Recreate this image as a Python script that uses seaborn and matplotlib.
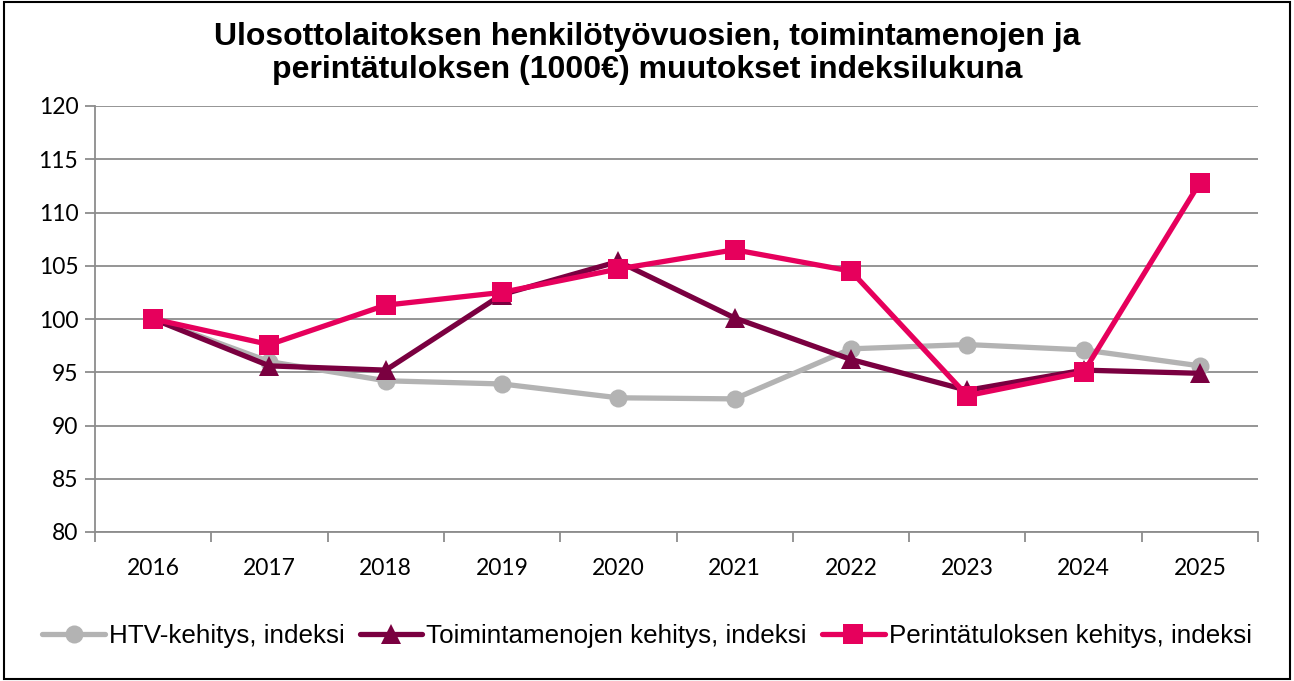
import matplotlib
matplotlib.use("Agg")
import matplotlib.pyplot as plt
import seaborn as sns
import pandas as pd
import numpy as np
from matplotlib.patches import Rectangle

years = ["2016", "2017", "2018", "2019", "2020", "2021", "2022", "2023", "2024", "2025"]
htv = [100.0, 96.0, 94.2, 93.9, 92.6, 92.5, 97.2, 97.6, 97.1, 95.6]
toimintamenot = [100.0, 95.6, 95.2, 102.3, 105.4, 100.1, 96.2, 93.3, 95.2, 94.9]
perinta = [100.0, 97.6, 101.3, 102.5, 104.7, 106.5, 104.5, 92.8, 95.0, 112.8]

series_names = ["HTV-kehitys, indeksi", "Toimintamenojen kehitys, indeksi",
                "Perintätuloksen kehitys, indeksi"]
colors = ["#B3B3B3", "#7A0040", "#E6005C"]
markers = ["o", "^", "s"]

df = pd.DataFrame({"vuosi": years, series_names[0]: htv,
                   series_names[1]: toimintamenot, series_names[2]: perinta})
long = df.melt(id_vars="vuosi", var_name="sarja", value_name="indeksi")

sns.set_theme(style="white")
plt.rcParams["font.family"] = ["Liberation Sans", "DejaVu Sans"]
plt.rcParams["text.color"] = "black"
plt.rcParams["xtick.color"] = "black"
plt.rcParams["ytick.color"] = "black"

fig = plt.figure(figsize=(12.94, 6.81), dpi=100)
ax = fig.add_axes([95 / 1294, 1 - 532 / 681, (1258 - 95) / 1294, (532 - 106) / 681])

for name, c, m in zip(series_names, colors, markers):
    sub = long[long["sarja"] == name]
    xs = [years.index(v) for v in sub["vuosi"]]
    sns.lineplot(x=xs, y=sub["indeksi"].values, ax=ax, color=c, marker=m,
                 markersize=14 if m != "o" else 13, markeredgewidth=0,
                 linewidth=3.8, label=name, legend=False)

ax.set_xlim(-0.5, len(years) - 0.5)
ax.set_ylim(80, 120)
ax.set_yticks(np.arange(80, 121, 5))
ax.set_xticks(range(len(years)))
ax.set_xticklabels(years)
ax.set_xticks(np.arange(-0.5, len(years), 1), minor=True)
ax.grid(axis="y", color="#8C8C8C", linewidth=1.3)
ax.set_axisbelow(True)
for s in ["top", "right"]:
    ax.spines[s].set_visible(False)
for s in ["left", "bottom"]:
    ax.spines[s].set_color("#8C8C8C")
    ax.spines[s].set_linewidth(1.3)
ax.tick_params(axis="y", which="major", left=True, length=7, width=1.3,
               color="#8C8C8C", labelcolor="black", labelsize=16.5, pad=5)
ax.tick_params(axis="x", which="major", bottom=False, labelcolor="black",
               labelsize=16.5, pad=13)
ax.tick_params(axis="x", which="minor", bottom=True, length=7, width=1.3,
               color="#8C8C8C")
for lab in ax.get_xticklabels() + ax.get_yticklabels():
    lab.set_fontfamily(["Lato", "DejaVu Sans"])
ax.set_xlabel("")
ax.set_ylabel("")

fig.suptitle("Ulosottolaitoksen henkilötyövuosien, toimintamenojen ja\n"
             "perintätuloksen (1000€) muutokset indeksilukuna",
             x=0.5, y=0.967, fontsize=23, fontweight="bold", linespacing=1.1,
             color="black")

handles, labels = ax.get_legend_handles_labels()
leg = fig.legend(handles, labels, loc="center", bbox_to_anchor=(0.5, 1 - 636 / 681),
                 ncol=3, frameon=False, handlelength=2.4,
                 handletextpad=0.15, columnspacing=0.6,
                 prop={"family": ["Liberation Sans", "DejaVu Sans"], "size": 18.7})
for t in leg.get_texts():
    t.set_color("black")

fig.patches.append(Rectangle((0.003, 0.003), 0.994, 0.994, transform=fig.transFigure,
                             fill=False, edgecolor="black", linewidth=1.5))

fig.savefig("out.png", dpi=100, facecolor="white")
